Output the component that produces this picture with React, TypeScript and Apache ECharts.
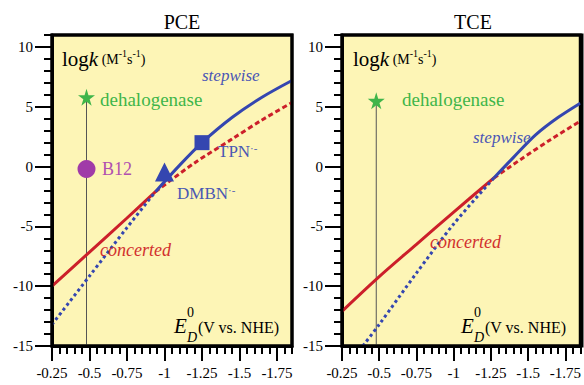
import React, { useEffect, useRef } from "react";
import * as echarts from "echarts";

// ---- tick values / labels ----
const panelTitles = ["PCE", "TCE"];
const xMajorTicks = [0.25, 0.5, 0.75, 1, 1.25, 1.5, 1.75]; // |E| in V, labelled as negative
const yMajorTicks = [-15, -10, -5, 0, 5, 10];
const X_MIN = 0.25;
const X_MAX = 1.85;
const Y_MIN = -15;
const Y_MAX = 11;

// ---- PCE data (E in V vs NHE, log k) ----
const pceStepwiseDotted = [[-0.25, -13.2], [-0.5, -9.15], [-0.75, -5.1], [-0.94, -2.1]];
const pceStepwiseSolid = [[-0.94, -2.1], [-1.1, 0.1], [-1.25, 2.0], [-1.45, 4.1], [-1.65, 5.8], [-1.85, 7.2]];
const pceConcertedSolid = [[-0.25, -10.0], [-0.5, -7.15], [-0.75, -4.3], [-0.94, -2.1]];
const pceConcertedDotted = [[-0.94, -2.1], [-1.2, 0.3], [-1.45, 2.3], [-1.65, 3.9], [-1.85, 5.35]];
const pceDehalogenase = [-0.48, 5.8];
const pceB12 = [-0.48, -0.2];
const pceTPN = [-1.25, 2.0];
const pceDMBN = [-1.0, -0.45];

// ---- TCE data ----
const tceStepwiseDotted = [[-0.39, -15.0], [-0.5, -13.2], [-0.75, -8.9], [-1.0, -4.8], [-1.27, -0.95]];
const tceStepwiseSolid = [[-1.27, -0.95], [-1.4, 0.75], [-1.55, 2.65], [-1.7, 4.1], [-1.85, 5.3]];
const tceConcertedSolid = [[-0.25, -12.1], [-0.5, -9.2], [-0.75, -6.5], [-1.0, -3.8], [-1.27, -0.95]];
const tceConcertedDotted = [[-1.27, -0.95], [-1.45, 0.6], [-1.65, 2.25], [-1.85, 3.8]];
const tceDehalogenase = [-0.48, 5.5];

const BLUE = "#3446b0";
const RED = "#cc1f2a";
const GREEN = "#3fb54a";
const PURPLE = "#a03ba8";
const YELLOW = "#fdf5b6";
const FONT = "'Liberation Serif', 'Times New Roman', serif";

// panel layout (pixels)
const PANELS = [
  { left: 52, top: 35, width: 240, height: 311 },
  { left: 342, top: 35, width: 240, height: 311 },
];

function minorList(a: number, b: number, step: number) {
  const out: number[] = [];
  const n = Math.round((b - a) / step);
  for (let i = 0; i <= n; i++) out.push(Math.round((a + i * step) * 1000) / 1000);
  return out;
}
const xMinorTicks = minorList(X_MIN, X_MAX, 0.05);
const yMinorTicks = minorList(Y_MIN, Y_MAX, 1);

const mag = (pts: number[][]) => pts.map(([e, k]) => [-e, k]);

export default function App() {
  const ref = useRef<HTMLDivElement>(null);
  useEffect(() => {
    if (!ref.current) return;
    const chart = echarts.init(ref.current, undefined, { renderer: "svg" });

    const grids = PANELS.map((g) => ({
      ...g,
      show: true,
      backgroundColor: YELLOW,
      borderColor: "#000",
      borderWidth: 3,
    }));

    const xAxes: any[] = [];
    const yAxes: any[] = [];
    [0, 1].forEach((gi) => {
      xAxes.push({
        type: "value",
        gridIndex: gi,
        min: X_MIN,
        max: X_MAX,
        position: "bottom",
        axisLine: { show: true, onZero: false, lineStyle: { color: "#000", width: 3 } },
        axisTick: { show: true, length: 15, lineStyle: { color: "#000", width: 2 }, customValues: xMajorTicks },
        minorTick: { show: false },
        axisLabel: {
          customValues: xMajorTicks,
          formatter: (v: number) => "-" + v,
          fontFamily: FONT,
          fontSize: 15,
          color: "#000",
          margin: 19,
        },
        splitLine: { show: false },
      });
      xAxes.push({
        type: "value",
        gridIndex: gi,
        min: X_MIN,
        max: X_MAX,
        position: "bottom",
        axisLine: { show: false, onZero: false },
        axisTick: { show: true, length: 8, lineStyle: { color: "#000", width: 2 }, customValues: xMinorTicks },
        axisLabel: { show: false },
        splitLine: { show: false },
      });
      yAxes.push({
        type: "value",
        gridIndex: gi,
        min: Y_MIN,
        max: Y_MAX,
        position: "left",
        axisLine: { show: true, onZero: false, lineStyle: { color: "#000", width: 3 } },
        axisTick: { show: true, length: 17, lineStyle: { color: "#000", width: 2 }, customValues: yMajorTicks },
        axisLabel: {
          customValues: yMajorTicks,
          fontFamily: FONT,
          fontSize: 15,
          color: "#000",
          margin: 19,
        },
        splitLine: { show: false },
      });
      yAxes.push({
        type: "value",
        gridIndex: gi,
        min: Y_MIN,
        max: Y_MAX,
        position: "left",
        axisLine: { show: false, onZero: false },
        axisTick: { show: true, length: 8, lineStyle: { color: "#000", width: 2 }, customValues: yMinorTicks },
        axisLabel: { show: false },
        splitLine: { show: false },
      });
    });

    const xi = (gi: number) => gi * 2;
    const yi = (gi: number) => gi * 2;

    const line = (gi: number, data: number[][], color: string, dash: any, z = 3) => ({
      type: "line",
      xAxisIndex: xi(gi),
      yAxisIndex: yi(gi),
      data: mag(data),
      smooth: 0.3,
      symbol: "none",
      showSymbol: false,
      z,
      lineStyle: { color, width: 3, type: dash, cap: "butt" },
    });
    const vline = (gi: number, pt: number[]) => ({
      type: "line",
      xAxisIndex: xi(gi),
      yAxisIndex: yi(gi),
      data: mag([pt, [pt[0], Y_MIN]]),
      symbol: "none",
      showSymbol: false,
      z: 2,
      lineStyle: { color: "#555", width: 1 },
    });
    const starPath = "path://M50,0 L61,35 L98,35 L68,57 L79,91 L50,70 L21,91 L32,57 L2,35 L39,35 Z";
    const marker = (gi: number, pt: number[], symbol: string, size: number, color: string) => ({
      type: "scatter",
      xAxisIndex: xi(gi),
      yAxisIndex: yi(gi),
      data: mag([pt]),
      symbol,
      symbolSize: size,
      z: 5,
      itemStyle: { color, opacity: 1 },
    });

    const series = [
      vline(0, pceDehalogenase),
      line(0, pceConcertedSolid, RED, "solid"),
      line(0, pceConcertedDotted, RED, [5, 3]),
      line(0, pceStepwiseDotted, BLUE, [3, 3]),
      line(0, pceStepwiseSolid, BLUE, "solid", 4),
      marker(0, pceDehalogenase, starPath, 17, GREEN),
      marker(0, pceB12, "circle", 18, PURPLE),
      marker(0, pceTPN, "rect", 15, BLUE),
      marker(0, pceDMBN, "triangle", 19, BLUE),
      vline(1, tceDehalogenase),
      line(1, tceConcertedSolid, RED, "solid"),
      line(1, tceConcertedDotted, RED, [5, 3]),
      line(1, tceStepwiseDotted, BLUE, [3, 3]),
      line(1, tceStepwiseSolid, BLUE, "solid", 4),
      marker(1, tceDehalogenase, starPath, 17, GREEN),
    ];

    const txt = (x: number, y: number, text: string, style: any = {}) => ({
      type: "text",
      x,
      y,
      z: 100,
      style: {
        text,
        fill: "#000",
        fontFamily: FONT,
        fontSize: 16,
        align: "left",
        verticalAlign: "middle",
        ...style,
      },
    });
    const logkRich = {
      n: { fontFamily: FONT, fontSize: 21, lineHeight: 22, fill: "#000" },
      i: { fontFamily: FONT, fontSize: 21, fontStyle: "italic", lineHeight: 22, fill: "#000" },
      s: { fontFamily: FONT, fontSize: 14, lineHeight: 22, fill: "#000" },
      sup: { fontFamily: FONT, fontSize: 10, lineHeight: 10, verticalAlign: "top", fill: "#000" },
    };
    const logkText = "{n|log}{i|k}{s| (M}{sup|-1}{s|s}{sup|-1}{s|)}";
    const ionRich = (c: string) => ({
      m: { fontFamily: FONT, fontSize: 17, lineHeight: 18, fill: c },
      sup: { fontFamily: FONT, fontSize: 11, lineHeight: 10, verticalAlign: "top", fill: c },
    });
    const eLabel = (x: number) => [
      txt(x, 326, "E", { fontSize: 21, fontStyle: "italic" }),
      txt(x + 13, 312, "0", { fontSize: 14 }),
      txt(x + 13, 337, "D", { fontSize: 14, fontStyle: "italic" }),
      txt(x + 24, 327, "(V vs. NHE)", { fontSize: 16 }),
    ];

    const frames = PANELS.map((p) => ({
      type: "rect",
      z: 90,
      silent: true,
      shape: { x: p.left, y: p.top, width: p.width, height: p.height },
      style: { fill: "rgba(0,0,0,0)", stroke: "#000000", lineWidth: 3 },
    }));

    const graphic: any[] = [
      ...frames,
      txt(182, 22, panelTitles[0], { fontSize: 20, align: "center" }),
      txt(473, 22, panelTitles[1], { fontSize: 20, align: "center" }),
      // PCE
      txt(62, 59, logkText, { rich: logkRich }),
      txt(100, 99, "dehalogenase", { fontSize: 19, fill: GREEN }),
      txt(102, 169, "B12", { fontSize: 18, fill: "#b04fb0" }),
      txt(218, 151, "{m|TPN}{sup|·-}", { rich: ionRich("#4a58b3") }),
      txt(177, 193, "{m|DMBN}{sup|·-}", { rich: ionRich("#4a58b3") }),
      txt(202, 75, "stepwise", { fontSize: 17, fontStyle: "italic", fill: "#4a55b5" }),
      txt(100, 250, "concerted", { fontSize: 18, fontStyle: "italic", fill: "#d2302e" }),
      ...eLabel(174),
      // TCE
      txt(353, 59, logkText, { rich: logkRich }),
      txt(402, 99, "dehalogenase", { fontSize: 19, fill: GREEN }),
      txt(473, 137, "stepwise", { fontSize: 17, fontStyle: "italic", fill: "#4a55b5" }),
      txt(430, 242, "concerted", { fontSize: 18, fontStyle: "italic", fill: "#d2302e" }),
      ...eLabel(461),
    ];

    chart.setOption({
      animation: false,
      backgroundColor: "#fff",
      grid: grids,
      xAxis: xAxes,
      yAxis: yAxes,
      series,
      graphic,
    } as any);

    return () => chart.dispose();
  }, []);

  return (
    <div
      ref={ref}
      style={{ position: "absolute", left: 0, top: 0, width: 584, height: 385 }}
    />
  );
}
